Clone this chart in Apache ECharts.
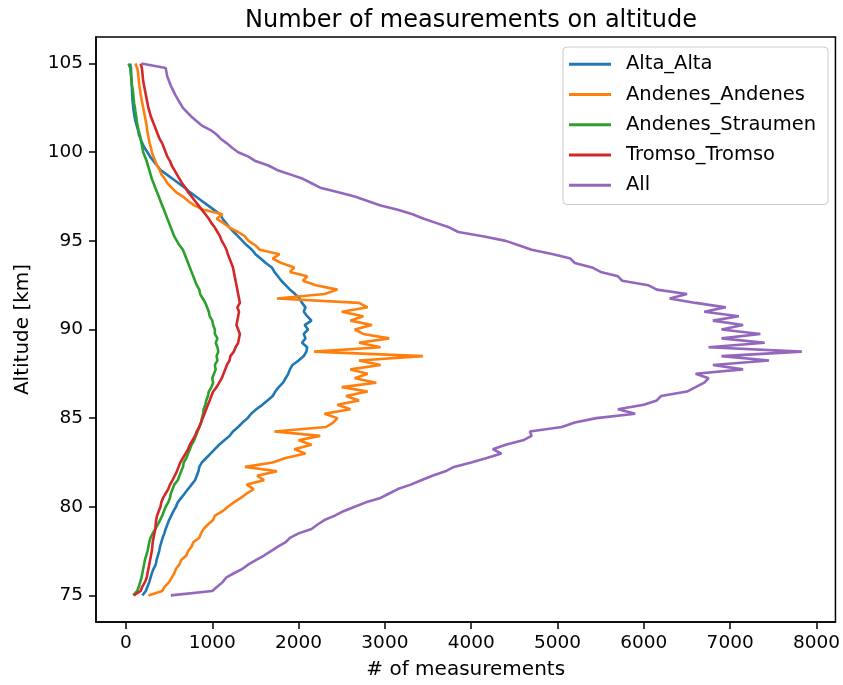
<!DOCTYPE html>
<html>
<head>
<meta charset="utf-8">
<script src="https://cdn.jsdelivr.net/npm/echarts@6/dist/echarts.min.js"></script>
<style>
html,body{margin:0;padding:0;background:#fff;}
#chart{width:843px;height:685px;}
</style>
</head>
<body>
<div id="chart"></div>
<script>
// Altitude levels (km)
const altitudes = [
  75,75.25,75.5,75.75,76,76.25,76.5,76.75,77,77.25,
  77.5,77.75,78,78.25,78.5,78.75,79,79.25,79.5,79.75,
  80,80.25,80.5,80.75,81,81.25,81.5,81.75,82,82.25,
  82.5,82.75,83,83.25,83.5,83.75,84,84.25,84.5,84.75,
  85,85.25,85.5,85.75,86,86.25,86.5,86.75,87,87.25,
  87.5,87.75,88,88.25,88.5,88.75,89,89.25,89.5,89.75,
  90,90.25,90.5,90.75,91,91.25,91.5,91.75,92,92.25,
  92.5,92.75,93,93.25,93.5,93.75,94,94.25,94.5,94.75,
  95,95.25,95.5,95.75,96,96.25,96.5,96.75,97,97.25,
  97.5,97.75,98,98.25,98.5,98.75,99,99.25,99.5,99.75,
  100,100.25,100.5,100.75,101,101.25,101.5,101.75,102,102.25,
  102.5,102.75,103,103.25,103.5,103.75,104,104.25,104.5,104.75,
  105];

const seriesNames = ["Alta_Alta","Andenes_Andenes","Andenes_Straumen","Tromso_Tromso","All"];

const altaAlta = [
  190,230,250,270,285,300,320,345,355,370,
  385,395,410,425,445,460,480,500,525,550,
  580,600,640,680,720,760,800,820,840,850,
  880,930,980,1030,1080,1140,1200,1240,1300,1350,
  1410,1450,1510,1580,1640,1700,1730,1770,1820,1850,
  1880,1900,1930,2000,2060,2090,2100,2040,2080,2060,
  2110,2070,2150,2100,2060,2080,2040,2010,1960,1900,
  1850,1800,1760,1720,1690,1620,1560,1500,1460,1400,
  1350,1300,1250,1200,1160,1120,1090,1020,950,880,
  810,740,680,610,540,470,400,360,320,280,
  250,215,190,170,150,140,125,110,100,92,
  85,80,75,72,70,68,65,62,60,58,
  50];

const andenesAndenes = [
  260,420,450,500,530,560,580,620,640,700,
  720,760,780,850,870,900,950,1010,1030,1120,
  1180,1250,1330,1400,1480,1400,1600,1520,1750,1380,
  1700,1850,2080,1950,2150,2000,2250,1720,2320,2400,
  2450,2300,2600,2450,2700,2550,2800,2500,2900,2650,
  2800,2600,2950,2700,3440,2180,2950,2700,3050,2750,
  2650,2850,2600,2750,2500,2800,2700,1750,2300,2450,
  2200,2050,2100,1900,1950,1800,1700,1780,1550,1500,
  1420,1380,1300,1200,1130,1050,1120,900,790,720,
  660,580,530,480,450,410,390,360,340,320,
  300,290,275,265,255,245,240,230,220,210,
  200,190,180,170,165,155,150,145,140,130,
  110];

const andenesStraumen = [
  85,130,150,165,180,190,200,210,220,235,
  250,260,270,285,310,340,370,395,420,440,
  460,490,510,520,540,560,600,620,640,660,
  670,700,720,740,760,790,810,830,850,870,
  880,895,900,920,930,950,960,990,1010,1000,
  1020,1040,1030,1060,1050,1070,1060,1040,1060,1030,
  1030,1010,1000,970,960,940,920,890,860,850,
  820,800,780,760,740,720,700,680,660,620,
  590,560,540,520,500,480,460,440,420,400,
  380,360,340,320,300,285,270,255,240,220,
  200,190,180,170,160,145,135,125,120,110,
  105,95,90,85,80,70,65,60,55,50,
  30];

const tromsoTromso = [
  90,170,190,220,240,250,260,270,280,290,
  300,305,310,320,330,340,345,350,360,380,
  400,410,430,460,490,510,540,565,590,610,
  630,660,690,720,740,770,800,820,850,870,
  890,910,930,950,970,990,1010,1050,1080,1110,
  1130,1150,1170,1200,1210,1250,1270,1300,1310,1320,
  1300,1280,1290,1300,1310,1290,1320,1310,1300,1290,
  1280,1270,1260,1250,1240,1220,1200,1180,1165,1140,
  1110,1090,1060,1030,990,960,920,880,840,800,
  760,720,690,650,620,590,560,530,510,480,
  460,440,420,390,370,350,330,310,290,275,
  260,250,240,230,220,210,200,195,190,185,
  170];

const allStations = [
  520,1000,1060,1120,1160,1250,1350,1420,1510,1600,
  1680,1760,1850,1900,2000,2150,2220,2300,2420,2520,
  2650,2780,2950,3050,3150,3300,3420,3550,3700,3800,
  4000,4180,4350,4250,4400,4600,4700,4680,5050,5200,
  5450,5900,5700,6000,6150,6200,6500,6600,6700,6750,
  6600,7150,6800,7450,6900,7830,6750,7400,6900,7350,
  6900,7150,6800,7100,6700,6950,6600,6300,6500,6150,
  6050,5750,5700,5500,5400,5200,5150,4950,4700,4550,
  4400,4150,3850,3750,3600,3450,3320,3150,2950,2800,
  2650,2450,2250,2150,2050,1900,1750,1650,1500,1420,
  1300,1230,1170,1100,1050,980,880,820,760,710,
  660,630,600,570,545,520,500,480,470,460,
  180];

const xTicks = [0,1000,2000,3000,4000,5000,6000,7000,8000];
const yTicks = [75,80,85,90,95,100,105];

const colors = ["#1f77b4","#ff7f0e","#2ca02c","#d62728","#9467bd"];
const valueLists = [altaAlta, andenesAndenes, andenesStraumen, tromsoTromso, allStations];

const FONT = "DejaVu Sans";
const chart = echarts.init(document.getElementById('chart'), null, {renderer:'canvas'});

const series = seriesNames.map((name, i) => ({
  name: name,
  type: 'line',
  data: valueLists[i].map((v, k) => [v, altitudes[k]]),
  symbol: 'none',
  showSymbol: false,
  lineStyle: {color: colors[i], width: 2.6},
  itemStyle: {color: colors[i]},
  emphasis: {disabled: true},
  z: 2
}));

chart.setOption({
  animation: false,
  backgroundColor: '#ffffff',
  textStyle: {fontFamily: FONT, color: '#000'},
  title: {
    text: 'Number of measurements on altitude',
    left: 466, top: 4,
    textAlign: 'center',
    textStyle: {fontFamily: FONT, fontSize: 24, fontWeight: 'normal', color: '#000'}
  },
  grid: {
    left: 96, right: 6, top: 37, bottom: 62,
    show: true, borderColor: '#000', borderWidth: 1.5, backgroundColor: 'transparent',
    containLabel: false
  },
  legend: {
    orient: 'vertical',
    left: 563, top: 47,
    data: seriesNames.map((n, i) => ({name: n, icon: 'rect', itemStyle: {color: colors[i]}})),
    itemWidth: 42, itemHeight: 3, itemGap: 10,
    padding: [7, 12, 9, 6],
    backgroundColor: 'rgba(255,255,255,0.85)',
    borderColor: '#cccccc', borderWidth: 1, borderRadius: 4,
    textStyle: {fontFamily: FONT, fontSize: 19.5, lineHeight: 20.3, color: '#000', padding: [0,0,0,10]},
    selectedMode: false
  },
  xAxis: {
    type: 'value',
    min: -347, max: 8220,
    name: '# of measurements',
    nameLocation: 'middle', nameGap: 38,
    nameTextStyle: {fontFamily: FONT, fontSize: 20, color: '#000'},
    axisLine: {show: true, onZero: false, lineStyle: {color: '#000', width: 1.5}},
    axisTick: {show: true, length: 7, lineStyle: {color: '#000', width: 1.5}, customValues: xTicks},
    axisLabel: {show: true, margin: 12, fontFamily: FONT, fontSize: 18.5, color: '#000', customValues: xTicks,
      formatter: v => String(v)},
    splitLine: {show: false}
  },
  yAxis: {
    type: 'value',
    min: 73.5, max: 106.5,
    name: 'Altitude [km]',
    nameLocation: 'middle', nameGap: 63, nameRotate: 90,
    nameTextStyle: {fontFamily: FONT, fontSize: 20, color: '#000'},
    axisLine: {show: true, onZero: false, lineStyle: {color: '#000', width: 1.5}},
    axisTick: {show: true, length: 7, lineStyle: {color: '#000', width: 1.5}, customValues: yTicks},
    axisLabel: {show: true, margin: 13, fontFamily: FONT, fontSize: 18.5, color: '#000', customValues: yTicks,
      formatter: v => String(v)},
    splitLine: {show: false}
  },
  series: series
});
</script>
</body>
</html>
